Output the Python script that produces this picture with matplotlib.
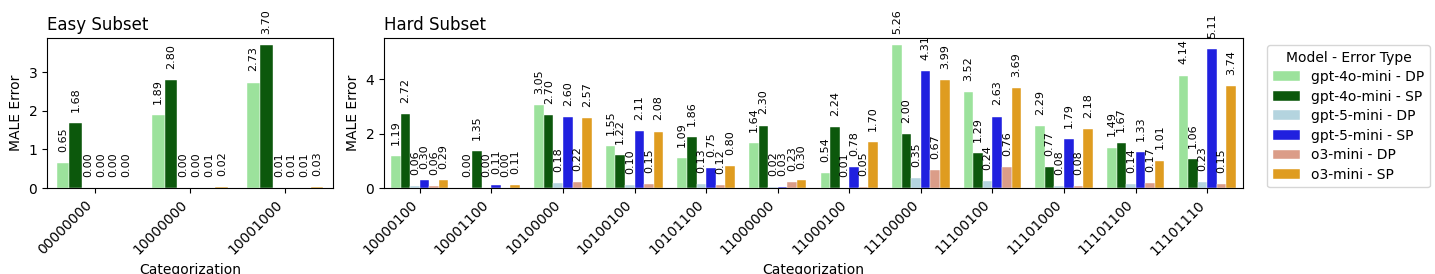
"""MALE error per categorization, easy vs hard subset, grouped bars."""

import colorsys

import matplotlib
matplotlib.use("Agg")
import matplotlib.colors as mcolors
import matplotlib.pyplot as plt
import numpy as np

series = [
    "gpt-4o-mini - DP",
    "gpt-4o-mini - SP",
    "gpt-5-mini - DP",
    "gpt-5-mini - SP",
    "o3-mini - DP",
    "o3-mini - SP",
]
base_colors = ["lightgreen", "darkgreen", "lightblue", "blue", "darksalmon", "orange"]

easy_cats = ["00000000", "10000000", "10001000"]
easy_gpt4o_dp = [0.65, 1.89, 2.73]
easy_gpt4o_sp = [1.68, 2.80, 3.70]
easy_gpt5_dp = [0.00, 0.00, 0.01]
easy_gpt5_sp = [0.00, 0.00, 0.01]
easy_o3_dp = [0.00, 0.01, 0.01]
easy_o3_sp = [0.00, 0.02, 0.03]

hard_cats = ["10000100", "10001100", "10100000", "10100100", "10101100", "11000000",
             "11000100", "11100000", "11100100", "11101000", "11101100", "11101110"]
hard_gpt4o_dp = [1.19, 0.00, 3.05, 1.55, 1.09, 1.64, 0.54, 5.26, 3.52, 2.29, 1.49, 4.14]
hard_gpt4o_sp = [2.72, 1.35, 2.70, 1.22, 1.86, 2.30, 2.24, 2.00, 1.29, 0.77, 1.67, 1.06]
hard_gpt5_dp = [0.06, 0.00, 0.18, 0.10, 0.13, 0.02, 0.01, 0.35, 0.24, 0.08, 0.14, 0.23]
hard_gpt5_sp = [0.30, 0.11, 2.60, 2.11, 0.75, 0.03, 0.78, 4.31, 2.63, 1.79, 1.33, 5.11]
hard_o3_dp = [0.06, 0.00, 0.22, 0.15, 0.12, 0.23, 0.05, 0.67, 0.76, 0.08, 0.17, 0.15]
hard_o3_sp = [0.29, 0.11, 2.57, 2.08, 0.80, 0.30, 1.70, 3.99, 3.69, 2.18, 1.01, 3.74]


def desaturate(color, prop=0.75):
    # same idea as seaborn's default bar saturation
    r, g, b = mcolors.to_rgb(color)
    h, l, s = colorsys.rgb_to_hls(r, g, b)
    return colorsys.hls_to_rgb(h, l, s * prop)


colors = [desaturate(c) for c in base_colors]


def draw_panel(ax, cats, values, title):
    x = np.arange(len(cats))
    width = 0.8 / len(values)
    for i, (vals, name, color) in enumerate(zip(values, series, colors)):
        offset = -0.4 + width * (i + 0.5)
        bars = ax.bar(x + offset, vals, width, color=color, label=name,
                      edgecolor="white", linewidth=0.3)
        ax.bar_label(bars, fmt="%.2f", rotation=90, padding=8, fontsize=8)
    ax.set_xticks(x)
    ax.set_xticklabels(cats, rotation=45, ha="right")
    ax.set_xlim(-0.5, len(cats) - 0.5)
    ax.set_title(title, loc="left")
    ax.set_xlabel("Categorization")
    ax.set_ylabel("MALE Error")


fig = plt.figure(figsize=(14.35, 2.74), dpi=100)
ax_easy = fig.add_axes([47 / 1435, 1 - 188 / 274, 286 / 1435, 150 / 274])
ax_hard = fig.add_axes([384 / 1435, 1 - 188 / 274, 859 / 1435, 150 / 274])

draw_panel(ax_easy, easy_cats,
           [easy_gpt4o_dp, easy_gpt4o_sp, easy_gpt5_dp, easy_gpt5_sp, easy_o3_dp, easy_o3_sp],
           "Easy Subset")
draw_panel(ax_hard, hard_cats,
           [hard_gpt4o_dp, hard_gpt4o_sp, hard_gpt5_dp, hard_gpt5_sp, hard_o3_dp, hard_o3_sp],
           "Hard Subset")

handles, labels = ax_hard.get_legend_handles_labels()
fig.legend(handles, labels, title="Model - Error Type", loc="upper left",
           bbox_to_anchor=(1267 / 1435, 1 - 45 / 274), borderaxespad=0,
           fontsize=10, labelspacing=0.4)

fig.savefig("out.png", dpi=100)
plt.close(fig)
